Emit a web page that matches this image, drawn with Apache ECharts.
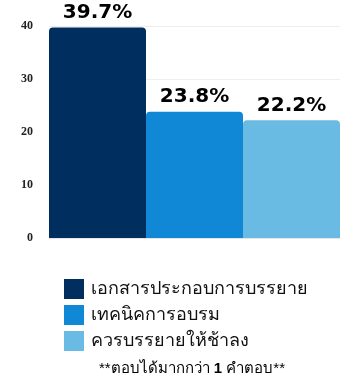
<!DOCTYPE html>
<html><head><meta charset="utf-8">
<script src="https://cdn.jsdelivr.net/npm/echarts@6/dist/echarts.min.js"></script>
<style>html,body{margin:0;padding:0;background:#fff}#c{width:358px;height:385px}</style>
</head><body><div id="c"></div>
<script>
const seriesNames = ['เอกสารประกอบการบรรยาย', 'เทคนิคการอบรม', 'ควรบรรยายให้ช้าลง'];
const seriesValues = [39.7, 23.8, 22.2];
const seriesColors = ['#002f5f', '#1088d6', '#69bbe3'];
const yTicks = [0, 10, 20, 30, 40];
const footnoteParts = ['**ตอบได้มากกว่า ', '1', ' คำตอบ**'];

const chart = echarts.init(document.getElementById('c'));
chart.setOption({
  animation: false,
  grid: {left: 49, right: 18, top: 26, bottom: 147},
  xAxis: {type: 'category', data: [''], axisLine: {show: true, lineStyle: {color: '#e6e6e6'}}, axisTick: {show: false}, axisLabel: {show: false}},
  yAxis: {type: 'value', min: yTicks[0], max: yTicks[yTicks.length-1], interval: 10,
    axisLine: {show: false}, axisTick: {show: false},
    splitLine: {lineStyle: {color: '#eeeeee'}},
    axisLabel: {fontFamily: 'Liberation Serif', fontWeight: 'bold', fontSize: 12, color: '#222', margin: 16}},
  legend: {orient: 'vertical', left: 64, top: 279, padding: 0, itemWidth: 20, itemHeight: 20, itemGap: 6, icon: 'rect',
    data: seriesNames, textStyle: {fontSize: 18, color: '#111', padding: [0,0,0,2]}},
  graphic: [{type: 'text', left: 99, top: 361, style: {
    text: '{a|' + footnoteParts[0] + '}{b|' + footnoteParts[1] + '}{a|' + footnoteParts[2] + '}',
    rich: {a: {fontSize: 15, color: '#111'}, b: {fontSize: 15, fontWeight: 'bold', color: '#111'}}}}],
  series: seriesNames.map((n, i) => ({
    name: n, type: 'bar', data: [seriesValues[i]], barGap: '0%', barCategoryGap: '0%',
    itemStyle: {color: seriesColors[i], borderRadius: [4,4,0,0]},
    label: {show: true, position: 'top', distance: 5, formatter: p => p.value + '%',
      fontFamily: 'DejaVu Sans', fontWeight: 'bold', fontSize: 20, color: '#000',
      textBorderColor: '#fff', textBorderWidth: 1}
  }))
});
</script></body></html>
